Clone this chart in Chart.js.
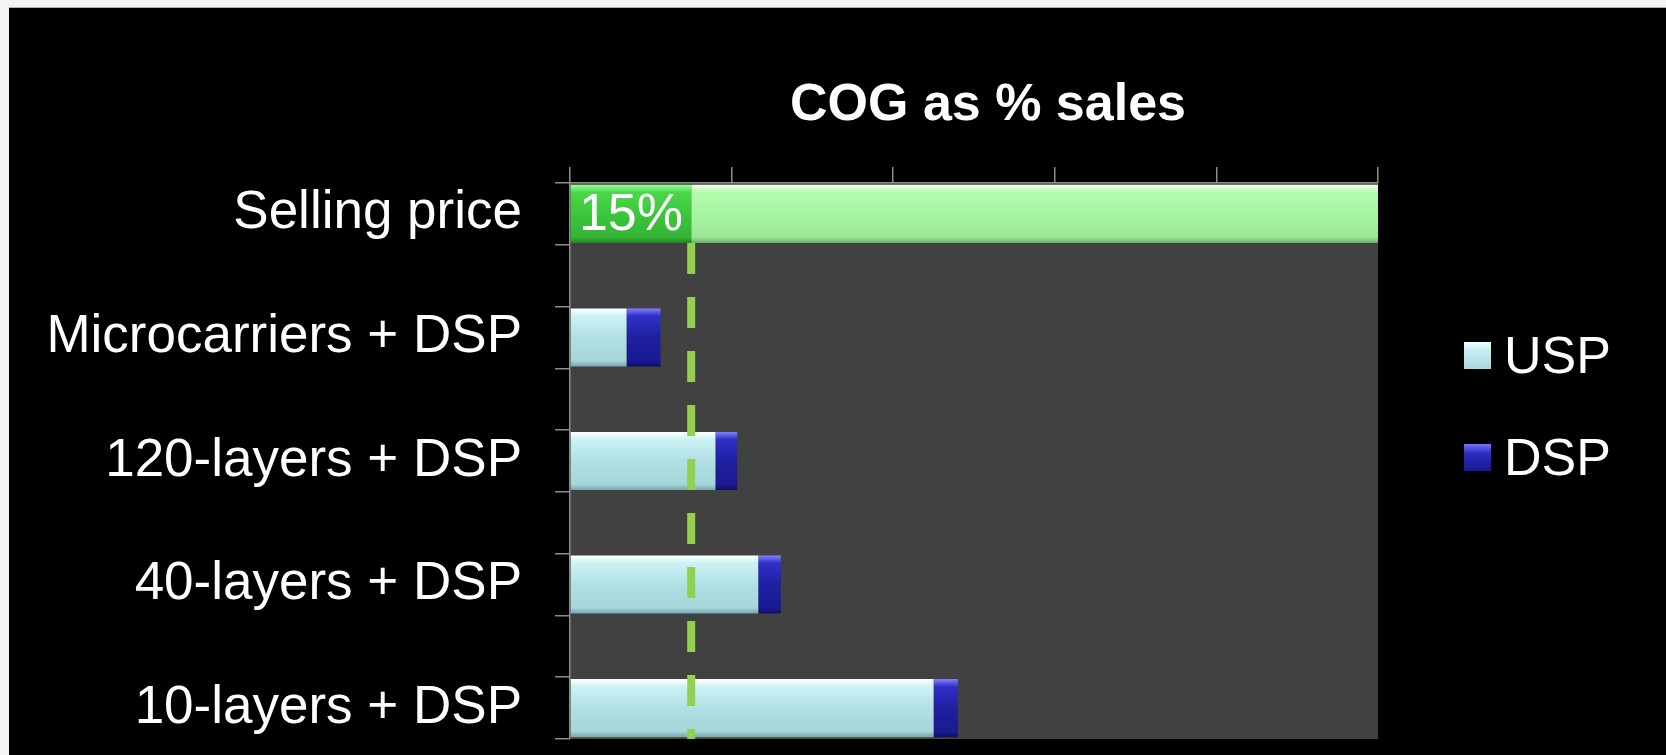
<!DOCTYPE html>
<html>
<head>
<meta charset="utf-8">
<title>COG as % sales</title>
<script src="https://cdn.jsdelivr.net/npm/chart.js@4.4.1/dist/chart.umd.min.js"></script>
<style>
  html, body { margin: 0; padding: 0; background: #f4f4f4; }
  body { width: 1666px; height: 755px; position: relative; overflow: hidden; font-family: "Liberation Sans", Arial, sans-serif; }
  #wrap { position: absolute; left: 9px; top: 7px; width: 1657px; height: 748px; background: #000; border-top: 1px solid #b0b0b0; box-sizing: border-box; }
  #titulo { position: absolute; left: 688px; top: 76px; width: 600px; text-align: center; color: #fff; font-weight: bold; font-size: 52px; line-height: 52px; }
  .leyenda { position: absolute; left: 1464px; display: flex; align-items: center; color: #fff; font-size: 52px; line-height: 52px; }
  .leyenda span.caja { width: 27px; height: 27px; margin-right: 13px; display: inline-block; }
  #leyUSP { top: 329px; }
  #leyDSP { top: 431px; }
  #leyUSP .caja { background: linear-gradient(#f2ffff 0%, #c6eef0 30%, #a9d9dd 100%); }
  #leyDSP .caja { background: linear-gradient(#7474ff 0%, #2c2cc4 35%, #181890 100%); }
</style>
</head>
<body>
<div id="wrap"><canvas id="grafico"></canvas></div>
<div id="titulo">COG as % sales</div>
<div class="leyenda" id="leyUSP"><span class="caja"></span>USP</div>
<div class="leyenda" id="leyDSP"><span class="caja"></span>DSP</div>
<script>
// Categorias (de arriba hacia abajo)
const categorias = [
  "Selling price",
  "Microcarriers + DSP",
  "120-layers + DSP",
  "40-layers + DSP",
  "10-layers + DSP",
];

// Precio de venta: parte COG y el resto (en %)
const cogPrecio = 15;
const restoPrecio = 85;

// Costos por proceso como % de ventas (sin valor para el precio de venta)
const costoUSP = [null, 7, 18, 23.3, 45];
const costoDSP = [null, 4.2, 2.7, 2.8, 3];

// Eje de valores
const ejeMin = 0;
const ejeMax = 100;
const ejePaso = 20;

// Entre cada categoria va una fila vacia
function intercalar(arr, vacio) {
  const out = [];
  arr.forEach((v, i) => {
    if (i > 0) out.push(vacio);
    out.push(v);
  });
  return out;
}

const etiquetas = intercalar(categorias, "");
const datosUSP = intercalar(costoUSP, null);
const datosDSP = intercalar(costoDSP, null);
const datosCOG = intercalar([cogPrecio, null, null, null, null], null);
const datosResto = intercalar([restoPrecio, null, null, null, null], null);

const anchoBarra = 0.94;

// Degradado vertical para dar efecto de bisel a cada barra
function bisel(paradas) {
  return function (context) {
    const chart = context.chart;
    const area = chart.chartArea;
    if (!area) return paradas[Math.floor(paradas.length / 2)][1];
    const ejeY = chart.scales.y;
    const centro = ejeY.getPixelForValue(context.dataIndex);
    const mitad = (area.height / etiquetas.length) * anchoBarra / 2;
    const g = chart.ctx.createLinearGradient(0, centro - mitad, 0, centro + mitad);
    paradas.forEach((p) => g.addColorStop(p[0], p[1]));
    return g;
  };
}

const fuente = "'Liberation Sans', Arial, sans-serif";

// Fondo gris del area de trazado
const fondoArea = {
  id: "fondoArea",
  beforeDraw(chart) {
    const { ctx, chartArea } = chart;
    ctx.save();
    ctx.fillStyle = "#414141";
    ctx.fillRect(chartArea.left, chartArea.top, chartArea.width, chartArea.height);
    ctx.restore();
  },
};

// Linea punteada en el nivel del COG y etiqueta del porcentaje
const lineaCOG = {
  id: "lineaCOG",
  afterDatasetsDraw(chart) {
    const { ctx, chartArea } = chart;
    const barra = chart.getDatasetMeta(0).data[0];
    const x = chart.scales.x.getPixelForValue(cogPrecio);
    const desde = barra.y + barra.height / 2;

    ctx.save();
    ctx.strokeStyle = "#92d050";
    ctx.lineWidth = 8;
    ctx.setLineDash([31, 23]);
    ctx.beginPath();
    ctx.moveTo(x, desde);
    ctx.lineTo(x, chartArea.bottom);
    ctx.stroke();

    ctx.setLineDash([]);
    ctx.fillStyle = "#ffffff";
    ctx.font = "52px " + fuente;
    ctx.textAlign = "center";
    ctx.textBaseline = "middle";
    ctx.fillText(cogPrecio + "%", (barra.x + barra.base) / 2, barra.y + 2);
    ctx.restore();
  },
};

const ctx = document.getElementById("grafico").getContext("2d");

new Chart(ctx, {
  type: "bar",
  data: {
    labels: etiquetas,
    datasets: [
      {
        label: "COG",
        data: datosCOG,
        backgroundColor: bisel([[0, "#9cff9c"], [0.13, "#4ad84a"], [0.5, "#3cc63c"], [0.9, "#34b434"], [1, "#228522"]]),
      },
      {
        label: "Margen",
        data: datosResto,
        backgroundColor: bisel([[0, "#eeffec"], [0.13, "#b4faae"], [0.5, "#a6f5a0"], [0.9, "#9ae794"], [1, "#6aae65"]]),
      },
      {
        label: "USP",
        data: datosUSP,
        backgroundColor: bisel([[0, "#ffffff"], [0.13, "#cdf2f4"], [0.5, "#b0e0e4"], [0.9, "#a6d6da"], [1, "#74a6aa"]]),
      },
      {
        label: "DSP",
        data: datosDSP,
        backgroundColor: bisel([[0, "#8282ff"], [0.13, "#3030c8"], [0.5, "#1f1fa2"], [0.9, "#1a1a92"], [1, "#0e0e66"]]),
      },
    ],
  },
  options: {
    indexAxis: "y",
    responsive: true,
    maintainAspectRatio: false,
    animation: false,
    devicePixelRatio: 1,
    layout: {
      padding: { top: 159, right: 288, bottom: 16, left: 0 },
    },
    datasets: {
      bar: {
        categoryPercentage: 1,
        barPercentage: anchoBarra,
        borderWidth: 0,
      },
    },
    scales: {
      x: {
        position: "top",
        stacked: true,
        min: ejeMin,
        max: ejeMax,
        ticks: { display: false, stepSize: ejePaso },
        grid: { drawOnChartArea: false, tickLength: 16, color: "#8c8c8c", lineWidth: 1.5 },
        border: { display: true, color: "#8c8c8c", width: 1.5 },
        afterFit(scale) {
          scale.height = 16;
          scale.paddingLeft = 0;
          scale.paddingRight = 0;
        },
      },
      y: {
        stacked: true,
        ticks: {
          autoSkip: false,
          color: "#ffffff",
          padding: 33,
          font: { family: fuente, size: 53 },
        },
        grid: { drawOnChartArea: false, tickLength: 15, color: "#8c8c8c", lineWidth: 1.5 },
        border: { display: true, color: "#8c8c8c", width: 1.5 },
        afterFit(scale) {
          scale.width = 561;
          scale.paddingTop = 0;
          scale.paddingBottom = 0;
        },
      },
    },
    plugins: {
      legend: { display: false },
      tooltip: { enabled: false },
    },
  },
  plugins: [fondoArea, lineaCOG],
});
</script>
</body>
</html>
